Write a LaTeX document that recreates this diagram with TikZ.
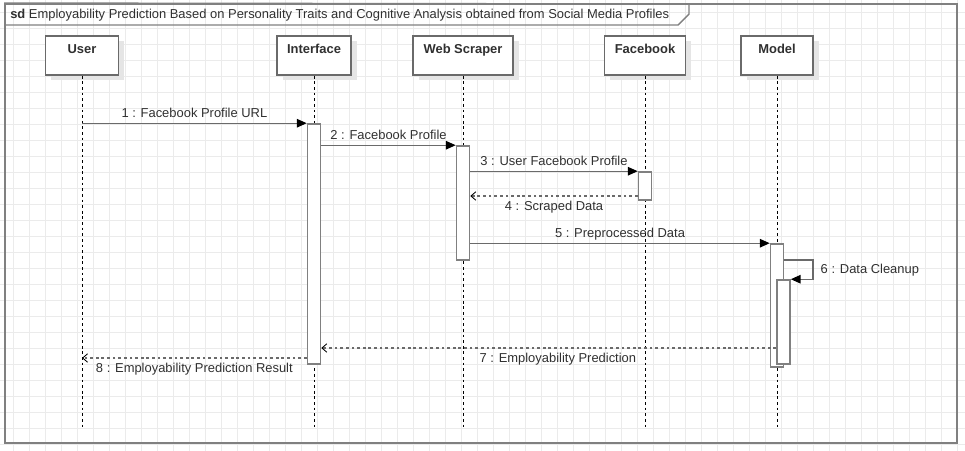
\documentclass[tikz,border=0pt]{standalone}
\usepackage{fontspec}
\setmainfont{Liberation Sans}
\usepackage{tikz}
\usetikzlibrary{positioning, fit, arrows.meta, shadows}

\definecolor{framegray}{HTML}{808080}
\definecolor{linegray}{HTML}{6A6A6A}
\definecolor{gridgray}{HTML}{EBEBEB}
\definecolor{txtgray}{HTML}{303030}

\begin{document}
\begin{tikzpicture}[
    % GLOBAL CFG
    x=0.025cm, y=-0.025cm,
    font=\fontsize{9.2}{11}\selectfont,
    text=txtgray,
    >=LaTeX,
    % Styles
    gridline/.style={% For the background grid
        draw=gridgray,
        line width=.6pt,
    },
    sdframe/.style={% For the outer frame
        rectangle,
        draw=framegray,
        line width=1.4pt,
        inner sep=0pt,
    },
    head/.style={% For lifeline heads
        rectangle,
        draw=linegray,
        line width=1.1pt,
        fill=white,
        minimum height=0.975cm,
        drop shadow={shadow xshift=.14cm, shadow yshift=-.12cm, fill=black!10, opacity=1},
    },
    headlbl/.style={% For the names in the heads
        font=\fontsize{9.2}{11}\selectfont\bfseries,
        anchor=north,
        inner sep=5.5pt,
        text height=7pt,
    },
    lifeline/.style={% Dashed lifelines
        draw=black,
        line width=.7pt,
        dash pattern=on 2pt off 2pt,
    },
    act/.style={% For activation bars
        rectangle,
        draw=framegray,
        line width=1.1pt,
        fill=white,
        inner sep=0pt,
    },
    msg/.style={% Synchronous calls
        draw=linegray,
        line width=1pt,
        -{Triangle[length=7pt, width=6pt, black]},
    },
    ret/.style={% Replies
        draw=linegray,
        line width=1pt,
        dash pattern=on 2pt off 2pt,
        -{Straight Barb[length=3.5pt, width=6pt, line width=.6pt, black]},
    },
    mlabel/.style={% Message labels
        inner sep=3pt,
        text height=7pt,
        text depth=2pt,
    },
    mup/.style={% Labels over a message
        mlabel,
        above,
        yshift=-1.5pt,
    },
    ]
    \useasboundingbox (0,0) rectangle (965,451);

    % Grid
    \begin{scope}[shift={(13,12)}]
        \draw[gridline, step=0.4cm] (-13,-12) grid (952,439);
    \end{scope}

    % Frame and title tab
    \node[sdframe, fit={(5,4) (957,443)}] (sd) {};
    \draw[draw=framegray, line width=1pt] (sd.north west) -- (689,4) -- (689,14) -- (678,25) -- (5,25);
    \node[anchor=west, inner sep=0pt] (title) at (10,15) {\textbf{sd} Employability Prediction Based on Personality Traits and Cognitive Analysis obtained from Social Media Profiles};

    % Coordinates
    \coordinate (lend) at (0,427);
    \coordinate (m4) at (0,196);
    \coordinate (m6) at (0,260);
    \coordinate (m7) at (0,348);
    \coordinate (m8) at (0,358);
    \coordinate (loop6) at (813,0);

    % Draw heads
    \node[head, minimum width=1.825cm, label={[headlbl]north:User}] (user) at (82,55.5) {};
    \node[head, minimum width=1.85cm, label={[headlbl]north:Interface}] (iface) at (314,55.5) {};
    \node[head, minimum width=2.5cm, label={[headlbl]north:Web Scraper}] (scraper) at (463,55.5) {};
    \node[head, minimum width=2.025cm, label={[headlbl]north:Facebook}] (fb) at (645,55.5) {};
    \node[head, minimum width=1.8cm, label={[headlbl]north:Model}] (model) at (777,55.5) {};

    % Lifelines
    \foreach \n in {user, iface, scraper, fb, model}
        \draw[lifeline] (\n.south) -- (\n.south |- lend);

    % Activations
    \node[act, fit={(307.5,124) (320.5,364)}] (actI) {};
    \node[act, fit={(456.5,146) (469.5,260)}] (actS) {};
    \node[act, fit={(638.5,172) (651.5,200)}] (actF) {};
    \node[act, fit={(770.5,244) (783.5,367)}] (actM) {};
    \node[act, fit={(777,280) (790,364)}] (actM2) {};

    % Messages
    \draw[msg] (user |- actI.north west) -- node[mup] {1 : Facebook Profile URL} (actI.north west);
    \draw[msg] (actI.east |- actS.north west) -- node[mup] {2 : Facebook Profile} (actS.north west);
    \draw[msg] (actS.east |- actF.north west) -- node[mup] {3 : User Facebook Profile} (actF.north west);
    \draw[ret] (actF.west |- m4) -- node[mlabel, below] {4 : Scraped Data} (actS.east |- m4);
    \draw[msg] (actS.east |- actM.north west) -- node[mup] {5 : Preprocessed Data} (actM.north west);
    \draw[msg] (actM.east |- m6) -- (loop6 |- m6) -- node[mlabel, right, xshift=2pt] {6 : Data Cleanup} (loop6 |- actM2.north east) -- (actM2.north east);
    \draw[ret] (actM2.west |- m7) -- node[mlabel, below, pos=.48] {7 : Employability Prediction} (actI.east |- m7);
    \draw[ret] (actI.west |- m8) -- node[mlabel, below] {8 : Employability Prediction Result} (user |- m8);

\end{tikzpicture}
\end{document}
